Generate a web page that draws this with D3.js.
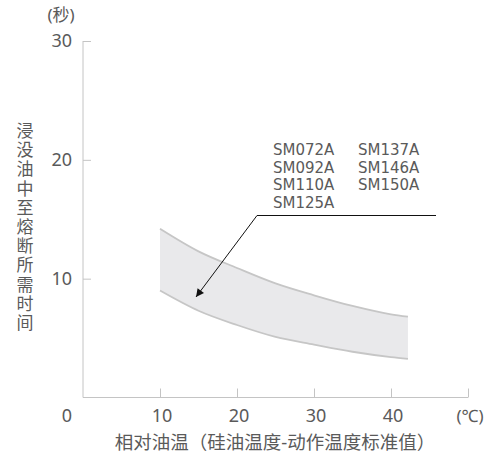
<!DOCTYPE html>
<html><head><meta charset="utf-8">
<script src="https://cdn.jsdelivr.net/npm/d3@7"></script>
<style>
html,body{margin:0;padding:0;background:#fff;}
text{font-family:"Noto Sans","Noto Sans CJK SC",sans-serif;fill:#5a5a5a;}
text.lg{font-family:"DejaVu Sans",sans-serif;}
text.vt{font-family:"Noto Sans CJK SC",sans-serif;writing-mode:vertical-rl;text-orientation:upright;}
</style></head>
<body><svg id="c" width="502" height="457"></svg>
<script>
const temps = [10, 15, 20, 25, 30, 35, 40, 42.2];
const upperTime = [14.2, 12.3, 10.9, 9.6, 8.6, 7.7, 7.0, 6.8];
const lowerTime = [9.0, 7.3, 6.1, 5.1, 4.45, 3.85, 3.4, 3.25];
const xTicks = [10, 20, 30, 40];
const yTicks = [10, 20, 30];
const modelsCol1 = ["SM072A", "SM092A", "SM110A", "SM125A"];
const modelsCol2 = ["SM137A", "SM146A", "SM150A"];
const yTitle = "浸没油中至熔断所需时间";
const xTitle = "相对油温（硅油温度-动作温度标准值）";

const svg = d3.select("#c");
const x = d3.scaleLinear().domain([0, 50]).range([83, 468]);
const y = d3.scaleLinear().domain([0, 30]).range([397.5, 41]);
const axisColor = "#c4c4c4";

// band
const band = temps.map((t, i) => ({t, lo: lowerTime[i], hi: upperTime[i]}));
const curve = d3.curveMonotoneX;
svg.append("path").datum(band)
  .attr("d", d3.area().x(d => x(d.t)).y0(d => y(d.lo)).y1(d => y(d.hi)).curve(curve))
  .attr("fill", "#e9e9eb");
["hi", "lo"].forEach(k => {
  svg.append("path").datum(band)
    .attr("d", d3.line().x(d => x(d.t)).y(d => y(d[k])).curve(curve))
    .attr("fill", "none").attr("stroke", "#c6c6c6").attr("stroke-width", 1.8);
});

// axes
const yAxis = d3.axisRight(y).tickValues(yTicks).tickSize(8).tickFormat("");
const gy = svg.append("g").attr("transform", `translate(${x(0)},0)`).call(yAxis);
const xAxis = d3.axisTop(x).tickValues(xTicks.concat([50])).tickSize(9).tickFormat("");
const gx = svg.append("g").attr("transform", `translate(0,${y(0)})`).call(xAxis);
[gy, gx].forEach(g => {
  g.select(".domain").attr("stroke", axisColor);
  g.selectAll(".tick line").attr("stroke", axisColor);
});
gy.select(".domain").attr("d", `M0,${y(30)}V${y(0)}`);
gx.select(".domain").attr("d", `M${x(0)},0H${x(50)}`);

// tick labels
yTicks.forEach(v => {
  svg.append("text").attr("x", 72).attr("y", y(v)).attr("dy", "0.36em")
    .attr("text-anchor", "end").attr("font-size", 18).text(v);
});
xTicks.forEach(v => {
  svg.append("text").attr("x", x(v) + 2).attr("y", 416).attr("dy", "0.36em")
    .attr("text-anchor", "middle").attr("font-size", 18).text(v);
});
svg.append("text").attr("x", 67).attr("y", 416).attr("dy", "0.36em")
  .attr("text-anchor", "middle").attr("font-size", 18).text("0");
svg.append("text").attr("x", 470).attr("y", 416).attr("dy", "0.36em")
  .attr("text-anchor", "middle").attr("font-size", 17).text("(℃)");
svg.append("text").attr("x", 61).attr("y", 15).attr("dy", "0.36em")
  .attr("text-anchor", "middle").attr("font-size", 17).text("(秒)");

// titles
svg.append("text").attr("x", 275).attr("y", 442).attr("dy", "0.36em")
  .attr("text-anchor", "middle").attr("font-size", 18.5).text(xTitle);
svg.append("text").attr("class", "vt").attr("x", 25).attr("y", 122)
  .attr("font-size", 17).attr("letter-spacing", 2.2).text(yTitle);

// legend labels: one text block per column
[[modelsCol1, 273], [modelsCol2, 358]].forEach(([list, cx]) => {
  const t = svg.append("text").attr("class", "lg").attr("x", cx).attr("y", 155).attr("font-size", 15);
  list.forEach((m, i) => {
    t.append("tspan").attr("x", cx).attr("dy", i === 0 ? 0 : 17.6).text(m);
  });
});

// leader + arrow
svg.append("defs").append("marker").attr("id", "ah")
  .attr("viewBox", "0 0 10 10").attr("refX", 10).attr("refY", 5)
  .attr("markerWidth", 13).attr("markerHeight", 8).attr("markerUnits", "userSpaceOnUse")
  .attr("orient", "auto")
  .append("path").attr("d", "M0,0L10,5L0,10Z").attr("fill", "#111");
svg.append("path").attr("d", "M436,215.5H257L196,297")
  .attr("fill", "none").attr("stroke", "#111").attr("stroke-width", 1)
  .attr("marker-end", "url(#ah)");
</script></body></html>
